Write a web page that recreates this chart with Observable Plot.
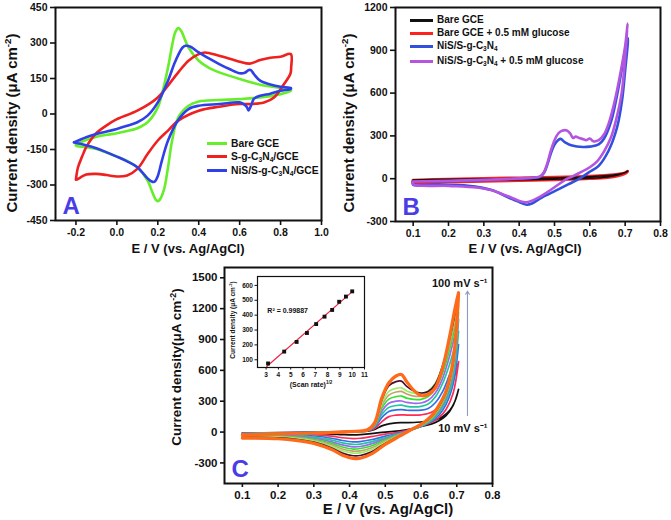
<!DOCTYPE html>
<html><head><meta charset="utf-8">
<script src="https://cdn.jsdelivr.net/npm/d3@7"></script>
<script src="https://cdn.jsdelivr.net/npm/@observablehq/plot@0.6"></script>
<style>
body{margin:0;background:#fff;}
#fig{position:relative;width:671px;height:520px;overflow:hidden;font-family:"Liberation Sans",Arial,sans-serif;font-weight:bold;color:#111;background:#fff;}
.t{position:absolute;white-space:nowrap;line-height:1;}
.yt{transform:translate(-50%,-50%) rotate(-90deg);}
.xt{transform:translate(-50%,-50%);}
.row{position:absolute;white-space:nowrap;display:flex;align-items:center;line-height:1;}
.sw{display:inline-block;height:3px;margin-right:4px;}
sub{font-size:65%;vertical-align:-0.25em;line-height:0;}
sup{font-size:65%;vertical-align:0.55em;line-height:0;}
</style></head><body><div id="fig"></div>
<script>
// ---------- Panel A data: [E (V), j (µA cm-2)] loops ----------
const aNames = ["Bare GCE", "S-g-C<sub>3</sub>N<sub>4</sub>/GCE", "NiS/S-g-C<sub>3</sub>N<sub>4</sub>/GCE"];
const aColors = ["#66ee2a", "#ee2020", "#3040e8"];
const aBare = [[-0.2,-129],[-0.15,-110],[-0.1,-96],[-0.05,-88],[0,-81],[0.05,-72],[0.1,-60],[0.15,-35],[0.2,28],[0.225,100],[0.25,197],[0.27,290],[0.285,345],[0.3,363],[0.315,350],[0.33,320],[0.35,281],[0.4,225],[0.45,195],[0.5,176],[0.6,148],[0.7,124],[0.8,110],[0.85,101],
  [0.85,98],[0.8,84],[0.7,70],[0.6,63],[0.5,59],[0.4,53],[0.35,35],[0.3,-14],[0.27,-112],[0.25,-225],[0.23,-320],[0.21,-362],[0.2,-368],[0.19,-362],[0.17,-323],[0.15,-281],[0.1,-225],[0.05,-198],[0,-180],[-0.1,-148],[-0.15,-140],[-0.2,-134],[-0.2,-129]];
const aSgCN = [[-0.2,-275],[-0.19,-225],[-0.17,-180],[-0.15,-140],[-0.12,-100],[-0.1,-80],[-0.05,-48],[0,-22],[0.1,14],[0.2,70],[0.3,176],[0.35,225],[0.4,253],[0.43,260],[0.5,246],[0.6,221],[0.65,213],[0.7,228],[0.75,238],[0.8,242],[0.85,253],
  [0.852,200],[0.848,170],[0.817,127],[0.768,70],[0.719,49],[0.65,42],[0.6,42],[0.5,31],[0.4,14],[0.3,-28],[0.25,-70],[0.2,-112],[0.15,-169],[0.1,-232],[0.05,-260],[0,-264],[-0.05,-258],[-0.1,-253],[-0.15,-256],[-0.2,-278],[-0.2,-275]];
const aNiS = [[-0.21,-120],[-0.15,-98],[-0.1,-84],[-0.05,-74],[0,-63],[0.05,-50],[0.1,-35],[0.15,-7],[0.2,49],[0.25,141],[0.28,211],[0.3,250],[0.32,280],[0.335,288],[0.36,284],[0.4,260],[0.45,235],[0.5,211],[0.55,190],[0.6,172],[0.625,174],[0.645,186],[0.655,185],[0.67,168],[0.7,141],[0.75,125],[0.8,115],[0.85,110],
  [0.85,106],[0.8,98],[0.75,86],[0.7,77],[0.67,65],[0.66,45],[0.65,25],[0.643,15],[0.635,30],[0.62,42],[0.6,49],[0.5,42],[0.4,35],[0.35,21],[0.3,-25],[0.25,-112],[0.22,-197],[0.2,-262],[0.185,-286],[0.17,-285],[0.15,-272],[0.1,-225],[0.05,-200],[0,-180],[-0.05,-162],[-0.1,-145],[-0.15,-132],[-0.21,-120]];
const aXTicks = [-0.2,0,0.2,0.4,0.6,0.8,1.0];
const aYTicks = [-450,-300,-150,0,150,300,450];

// ---------- Panel B data ----------
const bNames = ["Bare GCE", "Bare GCE + 0.5 mM glucose", "NiS/S-g-C<sub>3</sub>N<sub>4</sub>", "NiS/S-g-C<sub>3</sub>N<sub>4</sub> + 0.5 mM glucose"];
const bColors = ["#111111", "#ff2020", "#3050dd", "#b455e0"];
const bBare = [[0.1,-8],[0.2,-4],[0.3,-1],[0.4,2],[0.5,6],[0.6,14],[0.65,22],[0.68,32],[0.7,45],[0.708,55],[0.7,42],[0.68,25],[0.65,12],[0.6,3],[0.5,-4],[0.4,-8],[0.3,-11],[0.2,-13],[0.1,-14],[0.1,-8]];
const bBareGlu = [[0.1,-12],[0.2,-5],[0.3,0],[0.4,4],[0.5,8],[0.6,15],[0.65,22],[0.68,30],[0.7,40],[0.706,50],[0.7,38],[0.68,22],[0.65,10],[0.6,2],[0.5,-6],[0.4,-12],[0.3,-17],[0.2,-22],[0.1,-30],[0.1,-12]];
const bNiS = [[0.1,-22],[0.2,-18],[0.3,-10],[0.4,0],[0.45,8],[0.46,15],[0.47,40],[0.48,100],[0.49,180],[0.5,240],[0.51,270],[0.517,279],[0.53,255],[0.55,232],[0.58,222],[0.6,225],[0.625,240],[0.64,280],[0.66,400],[0.675,560],[0.69,760],[0.7,900],[0.708,985],
  [0.7,760],[0.691,546],[0.677,359],[0.653,196],[0.625,90],[0.597,44],[0.568,-3],[0.54,-38],[0.502,-85],[0.464,-132],[0.436,-174],[0.422,-183],[0.403,-167],[0.37,-132],[0.322,-80],[0.256,-50],[0.161,-43],[0.1,-43],[0.1,-22]];
const bNiSGlu = [[0.1,-20],[0.2,-15],[0.3,-8],[0.4,2],[0.45,10],[0.46,18],[0.47,45],[0.48,110],[0.49,200],[0.5,270],[0.51,315],[0.52,335],[0.535,338],[0.545,315],[0.552,285],[0.56,295],[0.57,285],[0.58,278],[0.59,270],[0.6,282],[0.61,262],[0.625,270],[0.64,310],[0.655,400],[0.67,540],[0.685,720],[0.7,930],[0.707,1088],
  [0.7,850],[0.69,600],[0.675,420],[0.66,290],[0.64,190],[0.62,120],[0.6,80],[0.57,40],[0.55,15],[0.536,0],[0.5,-60],[0.47,-110],[0.44,-150],[0.42,-165],[0.405,-160],[0.38,-135],[0.35,-105],[0.32,-80],[0.28,-62],[0.2,-50],[0.1,-40],[0.1,-20]];
const bXTicks = [0.1,0.2,0.3,0.4,0.5,0.6,0.7,0.8];
const bYTicks = [-300,0,300,600,900,1200];

// ---------- Panel C data (scan rates 10..100 mV/s) ----------
const cScanRates = [10,20,30,40,50,60,70,80,90,100];
const cColors = ["#111111","#ff2a55","#2f6fe8","#22c5a0","#a066f0","#33e033","#c8a070","#99ee66","#4a1030","#ff6a1a"];
const cUpE = [0.1,0.2,0.3,0.4,0.45,0.47,0.49,0.51,0.53,0.545,0.56,0.58,0.6,0.62,0.64,0.66,0.68,0.695,0.705];
const cLoE = [0.705,0.69,0.67,0.65,0.63,0.6,0.57,0.54,0.5,0.46,0.43,0.41,0.38,0.35,0.3,0.25,0.2,0.1];
const cUp10 = [-8,-5,0,5,10,25,60,80,90,92,92,93,98,105,118,150,210,300,415];
const cUp20 = [-10,-7,-2,5,12,35,100,150,165,168,165,165,168,180,215,290,420,560,685];
const cUp30 = [-12,-9,-3,5,14,45,140,200,215,218,212,210,213,230,285,390,560,720,850];
const cUp40 = [-14,-10,-4,5,15,55,170,240,258,262,250,245,250,272,340,470,660,840,980];
const cUp50 = [-16,-11,-5,5,16,60,200,280,300,302,288,280,283,310,380,520,740,950,1095];
const cUp60 = [-18,-12,-6,5,17,65,230,320,345,350,330,318,318,345,420,570,800,1020,1165];
const cUp70 = [-20,-13,-7,5,18,70,260,360,390,395,370,350,350,375,450,610,850,1080,1230];
const cUp80 = [-22,-14,-8,5,19,75,280,395,425,430,400,378,375,400,475,640,890,1120,1270];
const cUp90 = [-24,-15,-9,5,20,80,310,450,490,495,445,400,380,395,465,640,905,1150,1320];
const cUp100 = [-28,-17,-10,5,22,90,330,480,545,560,490,405,355,365,430,620,930,1200,1355];
const cLo10 = [415,260,160,110,80,55,30,12,0,-15,-25,-28,-25,-20,-15,-12,-10,-10];
const cLo20 = [685,380,220,140,95,55,25,0,-20,-45,-60,-63,-55,-40,-25,-18,-15,-15];
const cLo30 = [850,470,270,165,105,55,20,-10,-40,-75,-92,-95,-82,-60,-38,-25,-20,-20];
const cLo40 = [980,530,300,185,115,57,18,-15,-55,-95,-118,-120,-105,-78,-50,-33,-26,-25];
const cLo50 = [1095,580,330,200,125,60,17,-18,-65,-115,-140,-143,-125,-95,-60,-40,-32,-30];
const cLo60 = [1165,610,350,215,132,62,16,-22,-75,-135,-160,-165,-145,-110,-70,-48,-38,-35];
const cLo70 = [1230,640,365,228,140,65,15,-26,-88,-155,-182,-186,-165,-125,-80,-56,-44,-40];
const cLo80 = [1270,660,375,238,146,67,15,-30,-98,-172,-202,-205,-182,-138,-88,-62,-50,-45];
const cLo90 = [1320,680,385,248,152,70,15,-35,-110,-195,-228,-230,-205,-155,-98,-70,-56,-50];
const cLo100 = [1355,700,400,260,160,75,20,-40,-120,-215,-255,-255,-225,-170,-110,-80,-65,-58];
const cXTicks = [0.1,0.2,0.3,0.4,0.5,0.6,0.7,0.8];
const cYTicks = [-300,0,300,600,900,1200,1500];
const cRateLabels = [{x:0.708, y:1445, text:"100 mV s⁻¹"}, {x:0.717, y:35, text:"10 mV s⁻¹"}];
const cArrow = [{x1:0.73, y1:162, x2:0.73, y2:1370}];

// ---------- Inset data ----------
const insetX = [3.16,4.47,5.48,6.32,7.07,7.75,8.37,8.94,9.49,10.0];
const insetY = [75,155,220,280,340,390,435,490,525,560];
const insetFit = [{x:3.05, y:55}, {x:10.1, y:565}];
const insetXTicks = [3,4,5,6,7,8,9,10,11];
const insetYTicks = [100,200,300,400,500,600];
const insetR2 = [{x:3.1, y:430, text:"R² = 0.99887"}];

// ---------- helpers ----------
const FONT = "Liberation Sans, Arial, Helvetica, sans-serif";
const fig = document.getElementById("fig");
const pairs = arr => arr.map(([E, j]) => ({E, j}));
const loop = (up, lo) => [...cUpE.map((E, i) => ({E, j: up[i]})), ...cLoE.map((E, i) => ({E, j: lo[i]}))];

function panel(o) {
  const svg = Plot.plot({
    width: o.width, height: o.height,
    marginLeft: o.ml, marginRight: o.mr, marginTop: o.mt, marginBottom: o.mb,
    x: {domain: o.xd}, y: {domain: o.yd},
    style: {position: "absolute", left: o.left + "px", top: o.top + "px", fontFamily: FONT, fontWeight: "bold", fontSize: o.fs + "px", color: "#111", background: "transparent", overflow: "visible"},
    marks: [
      ...o.marks,
      Plot.axisX({ticks: o.xt, tickFormat: o.xf, tickSize: o.ts, tickPadding: o.tp ?? 3, strokeWidth: o.tw, label: null, fontSize: o.fs, fontWeight: "bold"}),
      Plot.axisY({ticks: o.yt, tickFormat: o.yf, tickSize: o.ts, tickPadding: o.tp ?? 3, strokeWidth: o.tw, label: null, fontSize: o.fs, fontWeight: "bold"}),
      Plot.frame({stroke: "#111", strokeWidth: o.fw})
    ]
  });
  fig.appendChild(svg);
}
function html(cls, left, top, size, inner) {
  const d = document.createElement("div");
  d.className = "t " + cls;
  d.style.left = left + "px"; d.style.top = top + "px"; d.style.fontSize = size + "px";
  d.innerHTML = inner;
  fig.appendChild(d);
}
function legend(names, colors, left, tops, size, swW, swH) {
  names.forEach((n, i) => {
    const r = document.createElement("div");
    r.className = "row";
    r.style.left = left + "px"; r.style.top = (tops[i] - size * 0.6) + "px"; r.style.fontSize = size + "px";
    r.innerHTML = `<span class="sw" style="width:${swW}px;height:${swH}px;background:${colors[i]}"></span><span>${n}</span>`;
    fig.appendChild(r);
  });
}
const letter = (L) => Plot.text([L], {text: d => d, frameAnchor: "bottom-left", textAnchor: "start", lineAnchor: "bottom", dx: 7, dy: -7, fontSize: 24, fontWeight: "bold", fill: "#4a3de6"});
const f1 = d => d.toFixed(1);
const fi = d => String(d);

// ---------- Panel A ----------
panel({left: 0, top: 0, width: 335, height: 260, ml: 55, mr: 14, mt: 7, mb: 40,
  xd: [-0.3, 1.0], yd: [-450, 450], xt: aXTicks, yt: aYTicks, xf: f1, yf: fi, fs: 10.5, ts: 5, tw: 1.6, fw: 2,
  marks: [
    ...[aBare, aSgCN, aNiS].map((s, i) => Plot.line(pairs(s), {x: "E", y: "j", stroke: aColors[i], strokeWidth: 2.6, curve: "catmull-rom"})),
    letter("A")
  ]});
legend(aNames, aColors, 207, [145, 158, 172], 10.3, 20, 3);
html("yt", 11, 123, 15, "Current density (μA cm<sup>-2</sup>)");
html("xt", 188, 248, 13, "E / V (vs. Ag/AgCl)");

// ---------- Panel B ----------
panel({left: 335, top: 0, width: 336, height: 260, ml: 60, mr: 11, mt: 7, mb: 39,
  xd: [0.05, 0.8], yd: [-300, 1200], xt: bXTicks, yt: bYTicks, xf: f1, yf: fi, fs: 10.5, ts: 5, tw: 1.6, fw: 2,
  marks: [
    Plot.line(pairs(bBareGlu), {x: "E", y: "j", stroke: bColors[1], strokeWidth: 3.4, curve: "catmull-rom"}),
    Plot.line(pairs(bBare), {x: "E", y: "j", stroke: bColors[0], strokeWidth: 1.4, curve: "catmull-rom"}),
    Plot.line(pairs(bNiS), {x: "E", y: "j", stroke: bColors[2], strokeWidth: 2.6, curve: "catmull-rom"}),
    Plot.line(pairs(bNiSGlu), {x: "E", y: "j", stroke: bColors[3], strokeWidth: 2.6, curve: "catmull-rom"}),
    letter("B")
  ]});
legend(bNames, bColors, 410, [21, 34, 47, 62], 10, 23, 3);
html("yt", 348, 123, 15, "Current density (μA cm<sup>-2</sup>)");
html("xt", 525, 248, 13, "E / V (vs. Ag/AgCl)");

// ---------- Panel C ----------
const cUps = [cUp10,cUp20,cUp30,cUp40,cUp50,cUp60,cUp70,cUp80,cUp90,cUp100];
const cLos = [cLo10,cLo20,cLo30,cLo40,cLo50,cLo60,cLo70,cLo80,cLo90,cLo100];
panel({left: 130, top: 260, width: 400, height: 260, ml: 94, mr: 38, mt: 7, mb: 37,
  xd: [0.05, 0.8], yd: [-500, 1600], xt: cXTicks, yt: cYTicks, xf: f1, yf: fi, fs: 11.5, ts: 4, tw: 1.6, fw: 2,
  marks: [
    ...cScanRates.map((r, i) => Plot.line(loop(cUps[i], cLos[i]), {x: "E", y: "j", stroke: cColors[i], strokeWidth: r === 100 ? 3.2 : 1.7, curve: "catmull-rom"})),
    Plot.arrow(cArrow, {x1: "x1", y1: "y1", x2: "x2", y2: "y2", stroke: "#8a9cc0", strokeWidth: 1.1, headLength: 5}),
    Plot.text(cRateLabels, {x: "x", y: "y", text: "text", fontSize: 11, fontWeight: "bold", fill: "#111"}),
    letter("C")
  ]});
html("yt", 177, 367, 13.5, "Current density(μA cm<sup>-2</sup>)");
html("xt", 388, 508, 15, "E / V (vs. Ag/AgCl)");

// ---------- Inset ----------
panel({left: 200, top: 270, width: 180, height: 130, ml: 57, mr: 16, mt: 6, mb: 33,
  xd: [2.3, 11], yd: [48, 660], xt: insetXTicks, yt: insetYTicks, xf: fi, yf: fi, fs: 6.5, ts: 2.5, tp: 2, tw: 1, fw: 1.2,
  marks: [
    Plot.line(insetFit, {x: "x", y: "y", stroke: "#ee2244", strokeWidth: 1.2}),
    Plot.dot(insetX.map((x, i) => ({x, y: insetY[i]})), {x: "x", y: "y", symbol: "square", fill: "#111", r: 2.2}),
    Plot.text(insetR2, {x: "x", y: "y", text: "text", textAnchor: "start", fontSize: 7, fontWeight: "bold", fill: "#111"})
  ]});
html("yt", 233, 320, 6.5, "Current density (μA cm<sup>-2</sup>)");
html("xt", 311, 384, 7, "(Scan rate)<sup>1/2</sup>");
</script></body></html>
